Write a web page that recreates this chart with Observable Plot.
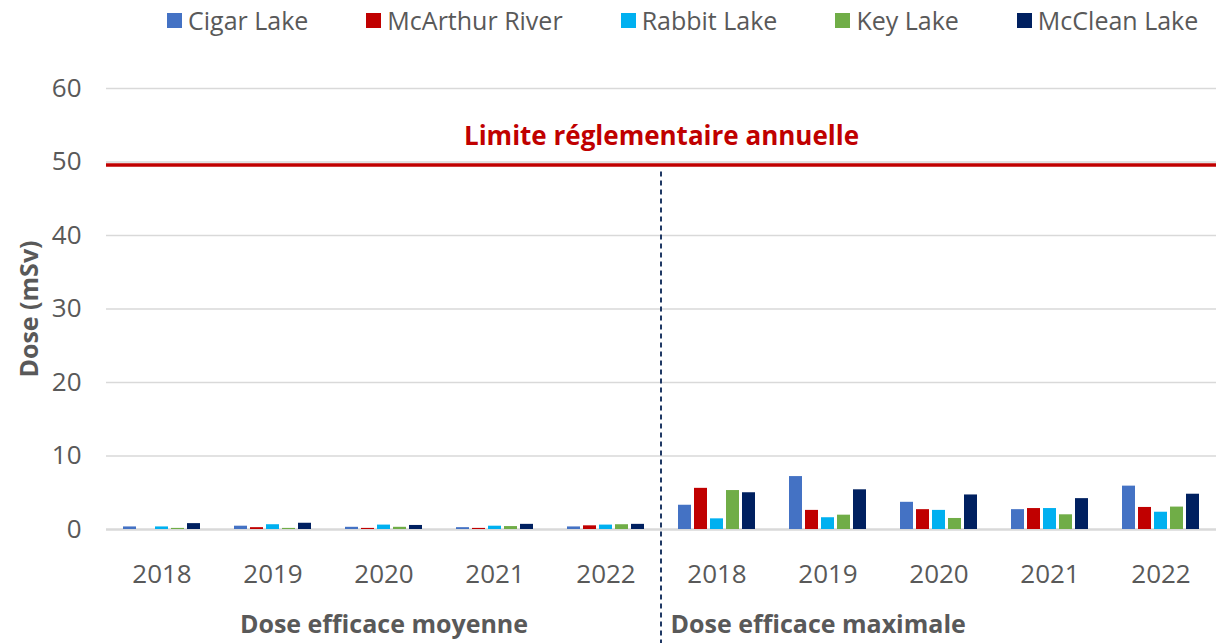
<!DOCTYPE html>
<html><head><meta charset="utf-8">
<script src="https://cdn.jsdelivr.net/npm/d3@7"></script>
<script src="https://cdn.jsdelivr.net/npm/@observablehq/plot@0.6"></script>
<style>
body{margin:0;background:#fff;font-family:"Open Sans",sans-serif;}
#wrap{position:relative;width:1216px;height:643px;overflow:hidden;}
#legend{position:absolute;top:3px;left:167px;display:flex;gap:58px;font-size:25px;line-height:34px;color:#595959;white-space:nowrap;}
.item{display:flex;align-items:center;}
.sw{width:15px;height:15px;margin-right:6px;}
</style></head><body><div id="wrap"><div id="legend"></div></div>
<script>
const sites = ["Cigar Lake","McArthur River","Rabbit Lake","Key Lake","McClean Lake"];
const colors = ["#4472C4","#C00000","#00B0F0","#70AD47","#002060"];
const years = ["2018","2019","2020","2021","2022"];
const groups = ["Dose efficace moyenne","Dose efficace maximale"];
const limit = 49.6;
const limitLabel = "Limite réglementaire annuelle";
const yTitle = "Dose (mSv)";
const yTicks = [0,10,20,30,40,50,60];

// Dose efficace moyenne (mSv), by year 2018–2022
const moyCigar    = [0.35,0.45,0.30,0.25,0.35];
const moyMcArthur = [0.00,0.25,0.15,0.15,0.50];
const moyRabbit   = [0.35,0.65,0.60,0.45,0.60];
const moyKey      = [0.15,0.15,0.30,0.40,0.65];
const moyMcClean  = [0.80,0.85,0.55,0.70,0.70];
// Dose efficace maximale (mSv), by year 2018–2022
const maxCigar    = [3.3,7.2,3.7,2.7,5.9];
const maxMcArthur = [5.6,2.6,2.7,2.85,3.0];
const maxRabbit   = [1.45,1.6,2.6,2.85,2.35];
const maxKey      = [5.3,1.95,1.5,2.0,3.05];
const maxMcClean  = [5.0,5.4,4.7,4.2,4.8];

const series = [
  [moyCigar,moyMcArthur,moyRabbit,moyKey,moyMcClean],
  [maxCigar,maxMcArthur,maxRabbit,maxKey,maxMcClean]
];
const fxKeys = [];
groups.forEach((g,gi)=>years.forEach(y=>fxKeys.push(gi+"-"+y)));
const rows = [];
series.forEach((grp,gi)=>grp.forEach((vals,si)=>vals.forEach((v,yi)=>{
  rows.push({key: gi+"-"+years[yi], site: sites[si], value: v});
})));

// legend
const leg = document.getElementById("legend");
sites.forEach((s,i)=>{
  const it = document.createElement("div"); it.className="item";
  const sw = document.createElement("div"); sw.className="sw"; sw.style.background=colors[i];
  const tx = document.createElement("span"); tx.textContent=s;
  it.append(sw,tx); leg.append(it);
});

const txt = {fill:"#595959", fontFamily:"Open Sans"};
const chart = Plot.plot({
  width:1216, height:643, marginLeft:105, marginRight:0, marginTop:88, marginBottom:114,
  style:{fontFamily:"Open Sans", fontSize:"26px", color:"#595959", background:"transparent", overflow:"visible"},
  fx:{domain: fxKeys, padding:0, axis:null, label:null},
  x:{domain:sites, paddingInner:0.2, paddingOuter:1.05, axis:null, label:null},
  y:{domain:[0,60], axis:null, label:null},
  color:{domain:sites, range:colors},
  marks:[
    Plot.gridY(yTicks.filter(d=>d>0), {stroke:"#D9D9D9", strokeOpacity:1, strokeWidth:1.5}),
    Plot.ruleY([0], {stroke:"#D9D9D9", strokeWidth:2.5}),
    Plot.barY(rows, {fx:"key", x:"site", y:"value", fill:"site"}),
    Plot.ruleY([limit], {stroke:"#C00000", strokeWidth:3.5}),
    Plot.axisY({ticks:yTicks, tickSize:0, tickPadding:25, fontSize:26, label:null, tickFormat:d=>String(d)}),
    Plot.axisFx({anchor:"bottom", tickSize:0, tickPadding:35, fontSize:26, label:null, tickFormat:k=>k.slice(2)}),
    Plot.text([limitLabel], {fx:()=>"1-2018", y:()=>limit, text:d=>d, frameAnchor:"left", textAnchor:"middle", lineAnchor:"top", dy:-38, fill:"#C00000", fontWeight:"bold", fontSize:26, fontFamily:"Open Sans"}),
    Plot.text([groups[0]], {fx:()=>"0-2020", text:d=>d, frameAnchor:"bottom", textAnchor:"middle", lineAnchor:"top", dy:86, fontWeight:"bold", fontSize:25, ...txt}),
    Plot.text([groups[1]], {fx:()=>"1-2018", text:d=>d, frameAnchor:"bottom-left", textAnchor:"start", lineAnchor:"top", dy:86, dx:9, fontWeight:"bold", fontSize:25, ...txt}),
    Plot.text([yTitle], {fx:()=>"0-2018", text:d=>d, frameAnchor:"left", textAnchor:"middle", rotate:-90, dx:-77, fontWeight:"bold", fontSize:25, ...txt})
  ]
});

// divider between the two groups, placed with the chart's own scales
const fxs = chart.scale("fx");
const ys = chart.scale("y");
let xDiv;
if (fxs.apply) xDiv = fxs.apply("1-2018");
else {
  const b = d3.scaleBand(fxs.domain, fxs.range).paddingInner(fxs.paddingInner||0).paddingOuter(fxs.paddingOuter||0).align(fxs.align ?? 0.5);
  xDiv = b("1-2018");
}
const yLim = ys.apply ? ys.apply(limit) : d3.scaleLinear(ys.domain, ys.range)(limit);
d3.select(chart).append("line")
  .attr("x1", xDiv).attr("x2", xDiv)
  .attr("y1", yLim + 7).attr("y2", 643)
  .attr("stroke", "#1F3864").attr("stroke-width", 2).attr("stroke-dasharray", "5,4");

document.getElementById("wrap").prepend(chart);
</script></body></html>
